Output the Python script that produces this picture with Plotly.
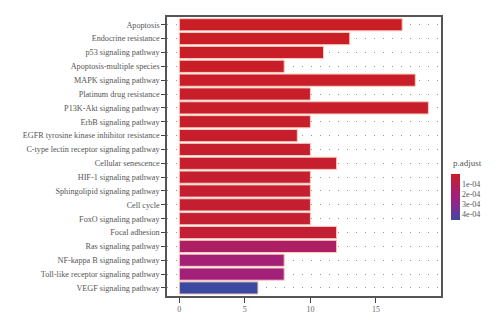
import plotly.graph_objects as go

# KEGG pathway enrichment: gene counts and adjusted p-values
pathways = [
    "Apoptosis",
    "Endocrine resistance",
    "p53 signaling pathway",
    "Apoptosis-multiple species",
    "MAPK signaling pathway",
    "Platinum drug resistance",
    "P13K-Akt signaling pathway",
    "ErbB signaling pathway",
    "EGFR tyrosine kinase inhibitor resistance",
    "C-type lectin receptor signaling pathway",
    "Cellular senescence",
    "HIF-1 signaling pathway",
    "Sphingolipid signaling pathway",
    "Cell cycle",
    "FoxO signaling pathway",
    "Focal adhesion",
    "Ras signaling pathway",
    "NF-kappa B signaling pathway",
    "Toll-like receptor signaling pathway",
    "VEGF signaling pathway",
]
counts = [17, 13, 11, 8, 18, 10, 19, 10, 9, 10, 12, 10, 10, 10, 10, 12, 12, 8, 8, 6]
p_adjust = [
    1e-6, 3e-6, 4e-6, 6e-6, 8e-6, 1.0e-5, 1.2e-5, 1.5e-5, 1.8e-5, 2.0e-5,
    2.2e-5, 2.5e-5, 2.8e-5, 3.0e-5, 3.2e-5, 3.5e-5, 1.6e-4, 2.1e-4, 2.2e-4, 4.6e-4,
]
cbar_ticks = [1e-4, 2e-4, 3e-4, 4e-4]
cbar_labels = ["1e-04", "2e-04", "3e-04", "4e-04"]

# Colour by -p so that the smallest p-values sit at the top of the colour bar
neg_p = [-p for p in p_adjust]
scale = [
    [0.0, "#3B4AA0"],
    [0.25, "#7A3092"],
    [0.5, "#A0207E"],
    [0.75, "#B41F52"],
    [1.0, "#CA1E26"],
]

serif = "Liberation Serif, Times New Roman, serif"

W, H = 500, 333
ML, MR, MT, MB = 167, 59, 17, 37
plot_w = W - ML - MR
plot_h = H - MT - MB

fig = go.Figure(
    go.Bar(
        x=counts,
        y=pathways,
        orientation="h",
        width=0.88,
        marker=dict(
            color=neg_p,
            colorscale=scale,
            cmin=-max(p_adjust),
            cmax=-min(p_adjust),
            line=dict(color="rgba(250,205,190,1)", width=1),
            colorbar=dict(
                tickvals=[-t for t in cbar_ticks],
                ticktext=cbar_labels,
                tickfont=dict(family=serif, size=8, color="#555"),
                thickness=9,
                thicknessmode="pixels",
                len=46,
                lenmode="pixels",
                x=(451 - ML) / plot_w,
                xanchor="left",
                y=(H - MB - 174) / plot_h,
                yanchor="top",
                xpad=0,
                ypad=0,
                ticks="",
                outlinewidth=0,
            ),
        ),
        hoverinfo="x+y",
    )
)

# Colour bar heading
fig.add_annotation(
    text="p.adjust",
    xref="paper", yref="paper",
    x=(451 - ML) / plot_w, y=(H - MB - 170) / plot_h,
    xanchor="left", yanchor="bottom",
    showarrow=False,
    font=dict(family=serif, size=9, color="#555"),
)

fig.update_layout(
    width=W,
    height=H,
    margin=dict(l=ML, r=MR, t=MT, b=MB),
    paper_bgcolor="white",
    plot_bgcolor="white",
    showlegend=False,
    font=dict(family=serif, color="#555"),
)

fig.update_xaxes(
    range=[-0.94, 19.96],
    tickvals=[0, 5, 10, 15],
    ticks="outside",
    ticklen=5,
    tickcolor="#444",
    tickfont=dict(family=serif, size=8, color="#666"),
    showgrid=False,
    zeroline=False,
    showline=True,
    linecolor="#555",
    linewidth=1.5,
    mirror=True,
)

fig.update_yaxes(
    categoryorder="array",
    categoryarray=pathways,
    range=[19.58, -0.56],
    ticks="outside",
    ticklen=4,
    tickcolor="#444",
    tickfont=dict(family=serif, size=8.2, color="#555"),
    showgrid=True,
    gridcolor="#999",
    gridwidth=1.2,
    griddash="1px,8px",
    showline=True,
    linecolor="#555",
    linewidth=1.5,
    mirror=True,
)

fig.write_html("out.html")
